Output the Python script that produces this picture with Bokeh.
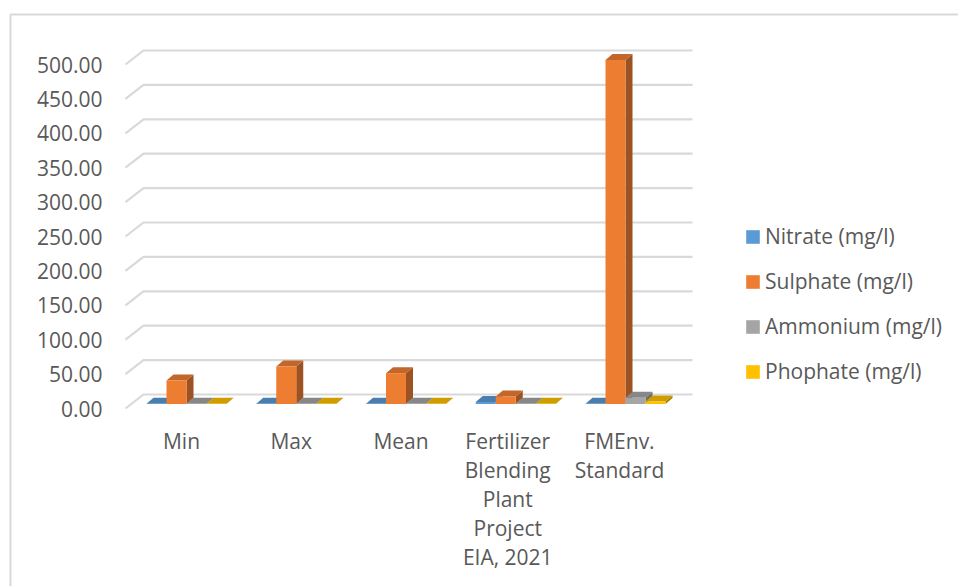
from bokeh.embed import file_html
from bokeh.models import FixedTicker, Legend, LegendItem, LinearAxis, NumeralTickFormatter, Range1d
from bokeh.core.properties import value
from bokeh.plotting import figure
from bokeh.resources import INLINE

categories = ["Min", "Max", "Mean", "Fertilizer\nBlending\nPlant\nProject\nEIA, 2021", "FMEnv.\nStandard"]
nitrate = [0.5, 0.5, 0.5, 3.0, 0.3]
sulphate = [34.0, 54.5, 44.8, 11.0, 500.0]
ammonium = [0.3, 0.3, 0.3, 0.3, 9.0]
phophate = [0.3, 0.3, 0.3, 0.3, 3.5]
y_ticks = [0, 50, 100, 150, 200, 250, 300, 350, 400, 450, 500]

series = [
    ("Nitrate (mg/l)", nitrate, "#5b9bd5", "#4a7eae", "#3c668c"),
    ("Sulphate (mg/l)", sulphate, "#ed7d31", "#c2662a", "#9c5321"),
    ("Ammonium (mg/l)", ammonium, "#a5a5a5", "#878787", "#6e6e6e"),
    ("Phophate (mg/l)", phophate, "#ffc000", "#d09d00", "#a67d00"),
]

TEXT = "#595959"
FONT = "Open Sans"
FONT_SIZE = "21px"
W, H = 958, 586
X0, Y0 = 181, 408     # page position of the first category and of the zero line
PX_X = 109.75         # pixels per category
PX_Y = 344 / 500      # pixels per unit of concentration
CAPTION_NUDGE = [0, 0, 0, -3, -1]   # horizontal trim of wrapped captions, in pixels


def dx(px):
    return px / PX_X


def dy(px):
    return px / PX_Y


def page_x(px):
    return dx(px - X0)


def page_y(px):
    return dy(Y0 - px)


# The plot area fills the page, so everything is placed on the same scales
p = figure(
    width=W, height=H, output_backend="svg", toolbar_location=None,
    x_range=Range1d(page_x(0), page_x(W)),
    y_range=Range1d(page_y(H), page_y(0)),
    min_border=0, x_axis_type=None, y_axis_type=None,
    background_fill_color="white", border_fill_color="white",
)
p.outline_line_color = None
p.grid.visible = False

yaxis = LinearAxis(
    fixed_location=page_x(125),
    ticker=FixedTicker(ticks=y_ticks),
    formatter=NumeralTickFormatter(format="0.00"),
    axis_line_color=None, major_tick_line_color=None, minor_tick_line_color=None,
    major_label_standoff=17,
    major_label_text_font=FONT, major_label_text_font_size=FONT_SIZE, major_label_text_color=TEXT,
)
p.add_layout(yaxis, "left")

# Chart-area border, open towards the page's right and bottom edges
p.line([page_x(W), page_x(10), page_x(10)], [page_y(14), page_y(14), page_y(H)],
       line_color="#d9d9d9", line_width=2)

# Receding wall and floor lines of the pseudo-3D chart box
grid_xs = [[page_x(125), page_x(143), page_x(692)] for _ in y_ticks]
grid_ys = [[t, t + dy(14), t + dy(14)] for t in y_ticks]
p.multi_line(grid_xs, grid_ys, line_color="#d9d9d9", line_width=2.2)

# Each bar is a front face plus a top and a side face sheared by the bar depth
BAR_W = dx(20)
DEPTH_X, DEPTH_Y = dx(7), dy(6)
BASE = dy(4.5)
items = []
for j, (name, values, front, top, side) in enumerate(series):
    lefts = [i - dx(35) + j * BAR_W for i in range(len(values))]
    rights = [x + BAR_W for x in lefts]
    tops = [BASE + v for v in values]
    p.patches(
        [[r, r + DEPTH_X, r + DEPTH_X, r] for r in rights],
        [[BASE, BASE + DEPTH_Y, t + DEPTH_Y, t] for t in tops],
        fill_color=side, line_color=None,
    )
    p.patches(
        [[l, l + DEPTH_X, r + DEPTH_X, r] for l, r in zip(lefts, rights)],
        [[t, t + DEPTH_Y, t + DEPTH_Y, t] for t in tops],
        fill_color=top, line_color=None,
    )
    face = p.quad(left=lefts, right=rights, bottom=BASE, top=tops, fill_color=front, line_color=None)
    items.append(LegendItem(label=name, renderers=[face]))

legend = Legend(
    items=items, location=(744, H - 385), orientation="vertical",
    glyph_width=17, glyph_height=17, label_standoff=4, spacing=17, padding=0, margin=0,
    border_line_color=None, background_fill_alpha=0,
    label_text_font=FONT, label_text_font_size=FONT_SIZE, label_text_color=TEXT, label_height=28,
)
p.add_layout(legend)

# Category captions, one text per line so the leading can be set
cap_x, cap_y, cap_text = [], [], []
for i, caption in enumerate(categories):
    for n, line in enumerate(caption.split("\n")):
        cap_x.append(i + dx(CAPTION_NUDGE[i]))
        cap_y.append(page_y(440 + 29 * n))
        cap_text.append(line)
p.text(cap_x, cap_y, text=cap_text, text_align="center", text_baseline="middle",
       text_font=value(FONT), text_font_size=value(FONT_SIZE), text_color=TEXT)

open("out.html", "w").write(file_html(p, INLINE))
